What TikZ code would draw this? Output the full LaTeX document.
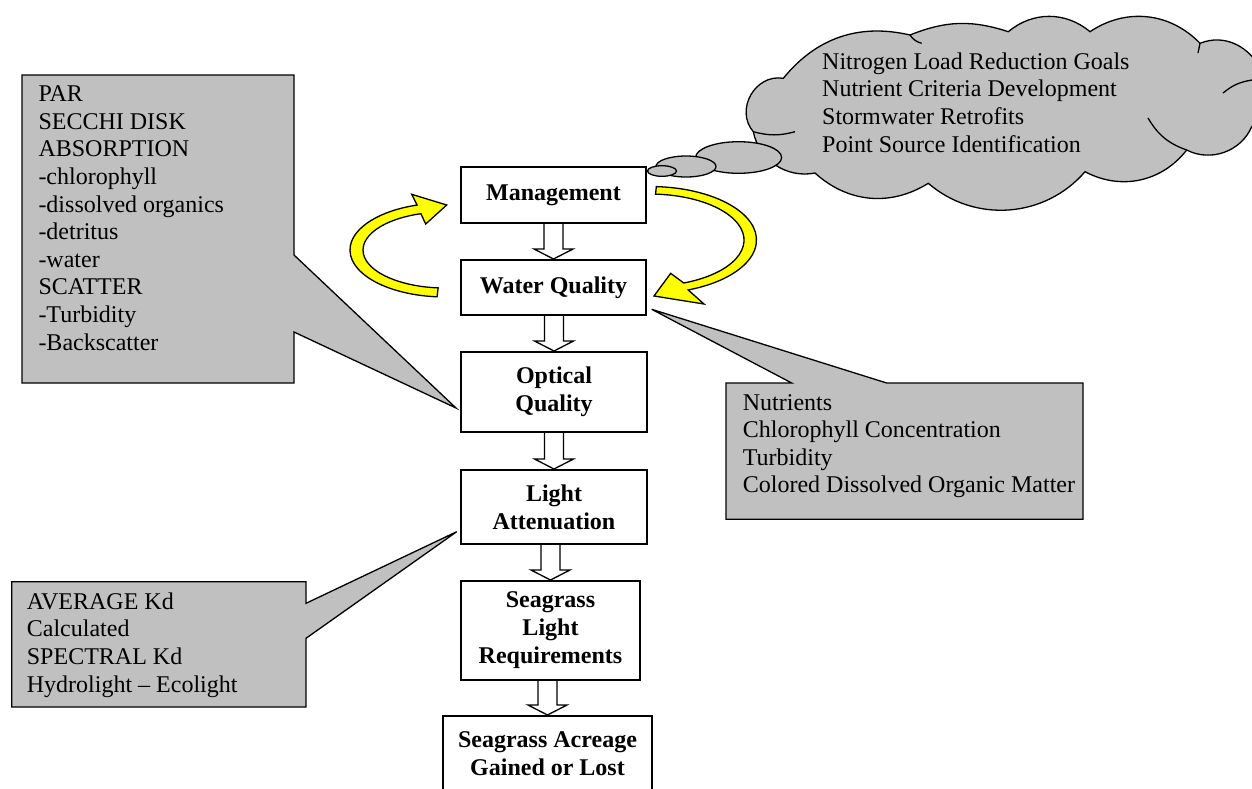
\documentclass[tikz,border=0pt]{standalone}
\usepackage{fontspec}
\setmainfont{Liberation Serif}
\usetikzlibrary{calc}
\definecolor{calloutgray}{RGB}{192,192,192}
\definecolor{arrowyellow}{RGB}{255,255,0}
\newcommand{\flowarrow}[2]{%
  \coordinate (s) at (#2.north |- #1.south);
  \draw[hollow] ($(s)+(-9.5,0)$) -- ($(#2.north)+(-9.5,-10)$) -- ($(#2.north)+(-19.5,-10)$) -- (#2.north)
    -- ($(#2.north)+(19.5,-10)$) -- ($(#2.north)+(9.5,-10)$) -- ($(s)+(9.5,0)$);}

\begin{document}
\begin{tikzpicture}[x=1pt,y=-1pt,
  every node/.style={font=\fontsize{24}{27.6}\selectfont},
  flowbox/.style={draw,line width=2pt,fill=white,align=center,inner sep=0pt,font=\fontsize{24}{28}\selectfont\bfseries},
  note/.style={anchor=north west,align=left,inner sep=0pt,execute at begin node=\strut},
  callout/.style={draw,line width=1.3pt,fill=calloutgray},
  hollow/.style={draw,line width=1.3pt,fill=white},
  curved/.style={draw,line width=1.3pt,fill=arrowyellow}]
\useasboundingbox (0,0) rectangle (1252,788);
\clip (0,0) rectangle (1252,788);
% callouts
\coordinate (tipA) at (456,408);
\coordinate (tipB) at (651.7,309.3);
\coordinate (tipC) at (456.7,531.7);
\draw[callout] (22,75) -- (294,75) -- (294,255) -- (tipA) -- (294,332) -- (294,383) -- (22,383) -- cycle;
\draw[callout] (726,383) -- (791.7,383) -- (tipB) -- (886.7,383) -- (1083,383) -- (1083,519.3) -- (726,519.3) -- cycle;
\draw[callout] (11.7,581.7) -- (306,581.7) -- (306,603.3) -- (tipC) -- (306,638.3) -- (306,707) -- (11.7,707) -- cycle;
\node[note] (parlist) at (38.3,85.7) {PAR\\SECCHI DISK\\ABSORPTION\\-chlorophyll\\-dissolved organics\\-detritus\\-water\\SCATTER\\-Turbidity\\-Backscatter};
\node[note] (wqlist) at (742.7,394) {Nutrients\\Chlorophyll Concentration\\Turbidity\\Colored Dissolved Organic Matter};
\node[note] (kdlist) at (26.7,592.4) {AVERAGE Kd\\Calculated\\SPECTRAL Kd\\Hydrolight -- Ecolight};
% cloud
\draw[callout] (783.3,78.3) to[bend left=32] (910,35) to[bend left=20] (1008.3,31.7) to[bend left=40] (1090,31.7)
  to[bend left=40] (1200,43.3) to[bend left=80,looseness=1.35] (1251.7,126.7) to[bend left=47] (1186.7,150)
  to[bend left=40] (1085,171.7) to[bend left=45] (928.3,183.3) to[bend left=37] (815,173)
  to[bend left=45] (753.3,131.7) to[bend left=70,looseness=1.2] (783.3,78.3) -- cycle;
\draw[line width=1.3pt] (753.3,131.7) to[bend right=15] (795,131.7);
\draw[line width=1.3pt] (1186.7,150) to[bend left=20] (1148,118);
\draw[line width=1.3pt] (1223,93) to[bend left=15] (1252,80);
\draw[line width=1.3pt] (910,35) to[bend right=20] (921.7,43.3);
\draw[line width=1.3pt] (1200,43.3) -- (1198,53);
\draw[callout] (738.6,157.5) ellipse [x radius=43, y radius=15.8];
\draw[callout] (686,166.5) ellipse [x radius=30, y radius=10.5];
\draw[callout] (662,171) ellipse [x radius=14.5, y radius=5.3];
\node[note] (mgmtlist) at (822,52.4) {Nitrogen Load Reduction Goals\\Nutrient Criteria Development\\Stormwater Retrofits\\Point Source Identification};
% yellow loop arrows
\draw[curved] (437.05,296.8) arc[start angle=94.8, end angle=252.9, x radius=95, y radius=47] -- (411.7,194.3)
  -- (446.7,205) -- (425.7,224) -- (420.9,213.7) arc[start angle=252.9, end angle=94.8, x radius=82, y radius=38] -- cycle;
\draw[curved] (656.3,186.6) arc[start angle=273.4, end angle=429, x radius=106.5, y radius=53.5] -- (704,304)
  -- (654,296) -- (670.7,273.3) -- (683.7,283) arc[start angle=429, end angle=273.4, x radius=94, y radius=46] -- cycle;
% flow boxes
\node[flowbox,minimum width=185,minimum height=56] (mgmt) at (553.5,195) {Management};
\node[flowbox,minimum width=185,minimum height=55] (wq) at (553.5,287.5) {Water Quality};
\node[flowbox,minimum width=186,minimum height=80] (oq) at (554,392) {Optical\\Quality};
\node[flowbox,minimum width=186,minimum height=74] (la) at (554,507) {Light\\Attenuation};
\node[flowbox,minimum width=179,minimum height=99] (slr) at (550.5,630.5) {Seagrass\\Light\\Requirements};
\node[flowbox,minimum width=209,minimum height=75] (sag) at (547.5,753.5) {Seagrass Acreage\\Gained or Lost};
\flowarrow{mgmt}{wq}
\flowarrow{wq}{oq}
\flowarrow{oq}{la}
\flowarrow{la}{slr}
\flowarrow{slr}{sag}
\end{tikzpicture}
\end{document}
